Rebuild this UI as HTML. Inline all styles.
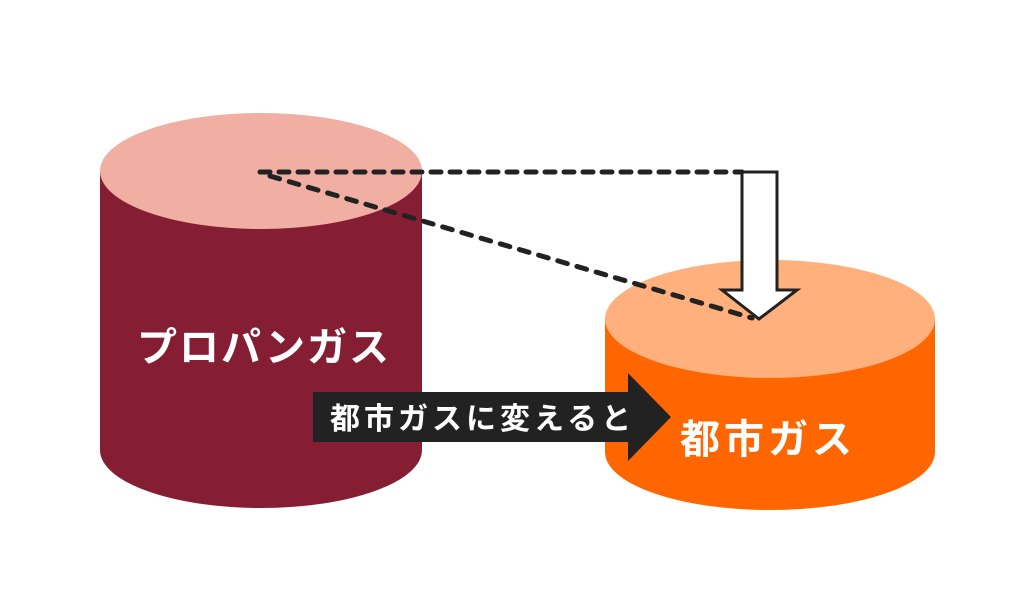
<!DOCTYPE html>
<html><head><meta charset="utf-8"><style>
html,body{margin:0;padding:0;background:#fff;}
svg{display:block;}
text{font-family:"Liberation Sans","Noto Sans CJK JP",sans-serif;font-weight:bold;fill:#fff;}
</style></head><body>
<svg width="1024" height="610" viewBox="0 0 1024 610">
<path d="M100 171 L100 450 A161 58 0 0 0 422 450 L422 171 Z" fill="#861e33"/>
<ellipse cx="261" cy="171" rx="161" ry="58" fill="#f0afa2"/>
<path d="M605 319 L605 452 A165 58 0 0 0 935 452 L935 319 Z" fill="#ff6600"/>
<ellipse cx="770" cy="319" rx="165" ry="59" fill="#ffb07c"/>
<line x1="260" y1="172" x2="742" y2="172" stroke="#222" stroke-width="5" stroke-dasharray="10 9" stroke-linecap="round"/>
<line x1="270" y1="176" x2="752" y2="318" stroke="#222" stroke-width="5" stroke-dasharray="10 10" stroke-linecap="round"/>
<path d="M742 172 L777 172 L777 290 L797 290 L759 319 L722 290 L742 290 Z" fill="#fff" stroke="#222" stroke-width="3" stroke-linejoin="miter"/>
<path d="M313 392 L628 392 L628 373 L671 417 L628 461 L628 442 L313 442 Z" fill="#222"/>
<text x="137" y="361" font-size="40" letter-spacing="2">プロパンガス</text>
<text x="330" y="429" font-size="30" letter-spacing="4">都市ガスに変えると</text>
<text x="680" y="453" font-size="40" letter-spacing="4">都市ガス</text>
</svg>
</body></html>
